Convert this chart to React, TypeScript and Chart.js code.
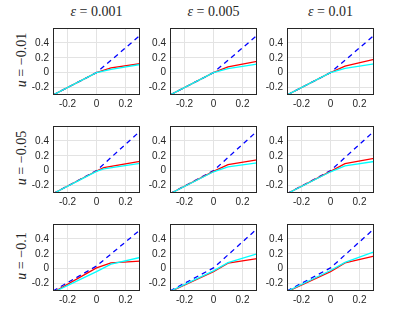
import React, { useEffect, useRef } from 'react';
import { Chart, registerables } from 'chart.js';

Chart.register(...registerables);

type P = [number, number];

// ---- text / ticks ----
const COLUMN_EPS = ['0.001', '0.005', '0.01'];
const ROW_U = ['−0.01', '−0.05', '−0.1'];
const X_TICKS = [-0.2, 0, 0.2];
const Y_TICKS = [-0.2, 0, 0.2, 0.4];
const X_MIN = -0.3;
const X_MAX = 0.3;
const Y_MIN = -0.3;
const Y_MAX = 0.6;

// ---- row 1 : u = -0.01 ----
const R1C1_BLUE: P[] = [[-0.3, -0.3], [0, 0], [0.3, 0.5]];
const R1C1_RED: P[] = [[-0.3, -0.3], [0, 0], [0.1, 0.065], [0.3, 0.12]];
const R1C1_CYAN: P[] = [[-0.3, -0.3], [0, 0], [0.1, 0.045], [0.3, 0.11]];
const R1C2_BLUE: P[] = [[-0.3, -0.3], [0, 0], [0.3, 0.5]];
const R1C2_RED: P[] = [[-0.3, -0.3], [0, 0], [0.1, 0.078], [0.3, 0.152]];
const R1C2_CYAN: P[] = [[-0.3, -0.3], [0, 0], [0.1, 0.055], [0.3, 0.115]];
const R1C3_BLUE: P[] = [[-0.3, -0.3], [0, 0], [0.3, 0.5]];
const R1C3_RED: P[] = [[-0.3, -0.3], [0, 0], [0.1, 0.088], [0.3, 0.178]];
const R1C3_CYAN: P[] = [[-0.3, -0.3], [0, 0], [0.1, 0.058], [0.3, 0.117]];

// ---- row 2 : u = -0.05 ----
const R2C1_BLUE: P[] = [[-0.3, -0.31], [0, 0], [0.3, 0.53]];
const R2C1_RED: P[] = [[-0.3, -0.31], [0, -0.005], [0.05, 0.04], [0.3, 0.126]];
const R2C1_CYAN: P[] = [[-0.3, -0.31], [0, -0.01], [0.05, 0.025], [0.3, 0.097]];
const R2C2_BLUE: P[] = [[-0.3, -0.31], [0, 0], [0.3, 0.53]];
const R2C2_RED: P[] = [[-0.3, -0.31], [0, -0.01], [0.1, 0.08], [0.3, 0.145]];
const R2C2_CYAN: P[] = [[-0.3, -0.31], [0, -0.015], [0.1, 0.05], [0.3, 0.106]];
const R2C3_BLUE: P[] = [[-0.3, -0.31], [0, 0], [0.3, 0.53]];
const R2C3_RED: P[] = [[-0.3, -0.31], [0, -0.01], [0.1, 0.094], [0.3, 0.166]];
const R2C3_CYAN: P[] = [[-0.3, -0.31], [0, -0.015], [0.1, 0.064], [0.3, 0.123]];

// ---- row 3 : u = -0.1 ----
const R3C1_BLUE: P[] = [[-0.3, -0.3], [0, 0.035], [0.3, 0.52]];
const R3C1_RED: P[] = [[-0.3, -0.32], [0, 0.01], [0.1, 0.078], [0.3, 0.1]];
const R3C1_CYAN: P[] = [[-0.3, -0.32], [0, -0.04], [0.1, 0.06], [0.3, 0.15]];
const R3C2_BLUE: P[] = [[-0.3, -0.3], [0, 0.01], [0.3, 0.535]];
const R3C2_RED: P[] = [[-0.3, -0.31], [0, -0.04], [0.1, 0.075], [0.3, 0.135]];
const R3C2_CYAN: P[] = [[-0.3, -0.305], [0, -0.03], [0.1, 0.08], [0.3, 0.2]];
const R3C3_BLUE: P[] = [[-0.3, -0.3], [0, 0.01], [0.3, 0.535]];
const R3C3_RED: P[] = [[-0.3, -0.31], [0, -0.04], [0.1, 0.077], [0.3, 0.17]];
const R3C3_CYAN: P[] = [[-0.3, -0.305], [0, -0.025], [0.1, 0.085], [0.3, 0.225]];

const PANELS = [
  [
    { blue: R1C1_BLUE, red: R1C1_RED, cyan: R1C1_CYAN },
    { blue: R1C2_BLUE, red: R1C2_RED, cyan: R1C2_CYAN },
    { blue: R1C3_BLUE, red: R1C3_RED, cyan: R1C3_CYAN },
  ],
  [
    { blue: R2C1_BLUE, red: R2C1_RED, cyan: R2C1_CYAN },
    { blue: R2C2_BLUE, red: R2C2_RED, cyan: R2C2_CYAN },
    { blue: R2C3_BLUE, red: R2C3_RED, cyan: R2C3_CYAN },
  ],
  [
    { blue: R3C1_BLUE, red: R3C1_RED, cyan: R3C1_CYAN },
    { blue: R3C2_BLUE, red: R3C2_RED, cyan: R3C2_CYAN },
    { blue: R3C3_BLUE, red: R3C3_RED, cyan: R3C3_CYAN },
  ],
];

// ---- layout ----
const PLOT_LEFT = [53, 170, 287];
const PLOT_TOP = [24, 122, 220];
const PLOT_W = 87;
const PLOT_H = 71;
const Y_AXIS_W = 40;
const X_AXIS_H = 18;
const PAD_TOP = 6;
const PAD_RIGHT = 8;
const CANVAS_W = PLOT_W + Y_AXIS_W + PAD_RIGHT;
const CANVAS_H = PLOT_H + PAD_TOP + X_AXIS_H;

const TEXT_COLOR = '#262626';
const GRID_COLOR = '#e3e3e3';
const LINE_W = 1.3;
const TICK_FONT = { family: '"Liberation Sans", Arial, Helvetica, sans-serif', size: 10 };
const SERIF = '"Liberation Serif", "Times New Roman", serif';

const fmt = (v: number) => (Math.abs(v) < 1e-9 ? '0' : String(+v.toFixed(1)));

const boxPlugin = {
  id: 'box',
  afterDatasetsDraw(chart: any) {
    const { ctx, chartArea } = chart;
    const { left, top, right, bottom } = chartArea;
    ctx.save();
    ctx.strokeStyle = TEXT_COLOR;
    ctx.lineWidth = 1;
    ctx.strokeRect(left + 0.5, top + 0.5, right - left - 1, bottom - top - 1);
    ctx.restore();
  },
};

const toXY = (pts: P[]) => pts.map(([x, y]) => ({ x, y }));

function Panel({ row, col }: { row: number; col: number }) {
  const ref = useRef<HTMLCanvasElement>(null);
  useEffect(() => {
    const p = PANELS[row][col];
    // lower "order" is drawn on top: cyan over red over blue
    const chart = new Chart(ref.current as HTMLCanvasElement, {
      type: 'line',
      data: {
        datasets: [
          { data: toXY(p.blue), borderColor: '#0000ff', borderDash: [5, 4], order: 3 },
          { data: toXY(p.red), borderColor: '#ff0000', order: 2 },
          { data: toXY(p.cyan), borderColor: '#00ffff', order: 1 },
        ] as any,
      },
      options: {
        responsive: false,
        animation: false,
        devicePixelRatio: 1,
        layout: { padding: { top: PAD_TOP, right: PAD_RIGHT, left: 0, bottom: 0 } },
        plugins: { legend: { display: false }, tooltip: { enabled: false }, title: { display: false } },
        elements: { point: { radius: 0 }, line: { borderWidth: LINE_W, tension: 0 } },
        scales: {
          x: {
            type: 'linear',
            min: X_MIN,
            max: X_MAX,
            afterBuildTicks: (s: any) => {
              s.ticks = X_TICKS.map((v) => ({ value: v }));
            },
            afterFit: (s: any) => {
              s.height = X_AXIS_H;
            },
            grid: { color: GRID_COLOR, drawTicks: false, lineWidth: 1 },
            border: { display: false },
            ticks: {
              padding: 3,
              color: TEXT_COLOR,
              font: TICK_FONT,
              maxRotation: 0,
              autoSkip: false,
              callback: (v: any) => fmt(Number(v)),
            },
          },
          y: {
            type: 'linear',
            min: Y_MIN,
            max: Y_MAX,
            afterBuildTicks: (s: any) => {
              s.ticks = Y_TICKS.map((v) => ({ value: v }));
            },
            afterFit: (s: any) => {
              s.width = Y_AXIS_W;
            },
            grid: { color: GRID_COLOR, drawTicks: false, lineWidth: 1 },
            border: { display: false },
            ticks: {
              padding: 4,
              color: TEXT_COLOR,
              font: TICK_FONT,
              autoSkip: false,
              callback: (v: any) => fmt(Number(v)),
            },
          },
        },
      } as any,
      plugins: [boxPlugin],
    });
    return () => chart.destroy();
  }, [row, col]);
  return (
    <canvas
      ref={ref}
      width={CANVAS_W}
      height={CANVAS_H}
      style={{
        position: 'absolute',
        left: PLOT_LEFT[col] - Y_AXIS_W,
        top: PLOT_TOP[row] - PAD_TOP,
        width: CANVAS_W,
        height: CANVAS_H,
      }}
    />
  );
}

export default function App() {
  return (
    <div
      style={{
        position: 'absolute',
        left: 0,
        top: 0,
        width: 415,
        height: 327,
        background: '#ffffff',
        overflow: 'hidden',
      }}
    >
      {COLUMN_EPS.map((eps, c) => (
        <div
          key={'t' + c}
          style={{
            position: 'absolute',
            left: PLOT_LEFT[c] + PLOT_W / 2 - 60,
            top: 4,
            width: 120,
            textAlign: 'center',
            fontFamily: SERIF,
            fontSize: 14,
            lineHeight: '16px',
            color: TEXT_COLOR,
            whiteSpace: 'nowrap',
          }}
        >
          <i>ε</i> = {eps}
        </div>
      ))}
      {ROW_U.map((u, r) => (
        <div
          key={'u' + r}
          style={{
            position: 'absolute',
            left: 22 - 50,
            top: PLOT_TOP[r] + PLOT_H / 2 - 8,
            width: 100,
            height: 16,
            textAlign: 'center',
            fontFamily: SERIF,
            fontSize: 14,
            lineHeight: '16px',
            color: TEXT_COLOR,
            whiteSpace: 'nowrap',
            transform: 'rotate(-90deg)',
            transformOrigin: '50% 50%',
          }}
        >
          <i>u</i> = {u}
        </div>
      ))}
      {PANELS.map((rowPanels, r) =>
        rowPanels.map((_, c) => <Panel key={r + '-' + c} row={r} col={c} />)
      )}
    </div>
  );
}
